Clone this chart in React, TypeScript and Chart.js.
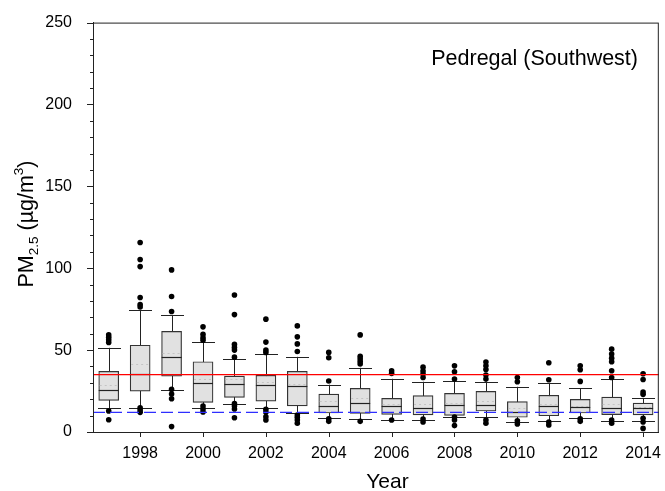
import React, { useEffect, useRef } from 'react';
import { Chart, registerables } from 'chart.js';

Chart.register(...registerables);

const years = [1997, 1998, 1999, 2000, 2001, 2002, 2003, 2004, 2005, 2006, 2007, 2008, 2009, 2010, 2011, 2012, 2013, 2014];
const upperCap = [51.4, 74.6, 71.3, 55.1, 44.5, 47.4, 45.9, 28.9, 39.2, 32.5, 30.7, 30.9, 30.7, 27.6, 29.9, 26.6, 32.5, 20.5];
const q3 = [37.0, 53.0, 61.4, 42.9, 34.1, 34.6, 37.0, 23.2, 26.6, 20.5, 22.2, 23.6, 24.8, 18.5, 22.4, 19.9, 21.3, 17.7];
const medians = [25.6, 35.2, 45.9, 29.9, 29.3, 28.5, 28.0, 15.7, 17.9, 15.9, 14.6, 16.3, 16.7, 12.0, 15.7, 15.4, 14.4, 14.4];
const means = [28.7, 41.3, 48.0, 32.5, 32.1, 30.5, 29.5, 19.0, 21.0, 17.0, 17.0, 18.0, 19.0, 14.5, 17.0, 16.0, 17.0, 15.0];
const q1 = [19.3, 25.0, 34.1, 18.1, 21.1, 18.9, 15.9, 11.6, 11.4, 10.8, 10.4, 10.2, 12.8, 9.0, 9.9, 11.6, 10.6, 10.4];
const lowerCap = [14.4, 14.4, 25.8, 14.8, 17.3, 14.6, 11.4, 8.5, 7.9, 7.5, 7.1, 9.0, 9.0, 6.3, 6.7, 8.3, 6.9, 6.7];
const outliers = [
  [59.3, 57.9, 56.3, 54.7, 12.8, 7.5],
  [115.7, 105.3, 101.0, 82.1, 77.8, 76.4, 14.8, 13.4, 12.0],
  [99.0, 82.7, 73.6, 26.0, 23.2, 20.3, 3.3],
  [64.2, 59.6, 57.5, 56.1, 15.9, 14.0, 12.2],
  [83.7, 71.7, 53.5, 51.6, 50.0, 45.7, 17.3, 15.9, 14.0, 8.7],
  [68.9, 54.9, 50.0, 48.6, 13.8, 12.0, 9.3, 7.3],
  [64.8, 58.1, 53.8, 49.2, 10.4, 9.0, 7.3, 5.3],
  [48.6, 45.3, 31.1, 8.1, 6.5],
  [59.3, 46.3, 44.7, 43.1, 41.5, 6.5],
  [37.4, 35.8, 7.3],
  [39.6, 37.2, 35.4, 33.3, 7.9, 6.1],
  [40.4, 36.8, 32.3, 9.1, 7.3, 3.9],
  [42.7, 40.4, 38.2, 34.8, 32.3, 7.3, 5.3],
  [33.3, 30.7, 6.9, 4.9],
  [42.3, 31.9, 6.1, 4.3],
  [40.4, 38.0, 30.9, 8.1, 6.5],
  [50.6, 47.6, 45.1, 42.9, 37.4, 33.3, 7.3, 5.3],
  [35.6, 32.1, 24.4, 23.0, 8.4, 6.1, 2.2],
];
const xTickYears = [1998, 2000, 2002, 2004, 2006, 2008, 2010, 2012, 2014];
const yTickValues = [0, 50, 100, 150, 200, 250];
const standard24h = 35;
const standardAnnual = 12;
const stationTitle = 'Pedregal (Southwest)';
const xTitle = 'Year';

const FONT = '"Liberation Sans", Arial, Helvetica, sans-serif';

export default function App() {
  const ref = useRef<HTMLCanvasElement>(null);

  useEffect(() => {
    const canvas = ref.current;
    if (!canvas) return;

    const boxExtras = {
      id: 'boxExtras',
      beforeDatasetsDraw(chart: any) {
        const { ctx, scales } = chart;
        const x = scales.x, y = scales.y;
        ctx.save();
        ctx.strokeStyle = '#222';
        ctx.lineWidth = 1;
        years.forEach((yr, i) => {
          const px = Math.round(x.getPixelForValue(yr)) + 0.5;
          ctx.beginPath();
          ctx.moveTo(px, y.getPixelForValue(lowerCap[i]));
          ctx.lineTo(px, y.getPixelForValue(upperCap[i]));
          ctx.stroke();
          [lowerCap[i], upperCap[i]].forEach((v) => {
            const py = Math.round(y.getPixelForValue(v)) + 0.5;
            ctx.beginPath();
            ctx.moveTo(px - 11.5, py);
            ctx.lineTo(px + 11.5, py);
            ctx.stroke();
          });
        });
        ctx.restore();
      },
      afterDatasetsDraw(chart: any) {
        const { ctx, scales, chartArea } = chart;
        const x = scales.x, y = scales.y;
        ctx.save();
        // means (dotted, faint)
        ctx.strokeStyle = '#c4c4c4';
        ctx.lineWidth = 1;
        ctx.setLineDash([2, 3]);
        years.forEach((yr, i) => {
          const px = x.getPixelForValue(yr);
          const py = Math.round(y.getPixelForValue(means[i])) + 0.5;
          ctx.beginPath();
          ctx.moveTo(px - 9, py);
          ctx.lineTo(px + 9, py);
          ctx.stroke();
        });
        ctx.setLineDash([]);
        // medians
        ctx.strokeStyle = '#222';
        ctx.lineWidth = 1.2;
        years.forEach((yr, i) => {
          const px = x.getPixelForValue(yr);
          const py = Math.round(y.getPixelForValue(medians[i])) + 0.5;
          ctx.beginPath();
          ctx.moveTo(px - 10, py);
          ctx.lineTo(px + 10, py);
          ctx.stroke();
        });
        // reference lines
        ctx.strokeStyle = '#ff0000';
        ctx.lineWidth = 1.3;
        let py = y.getPixelForValue(standard24h);
        ctx.beginPath();
        ctx.moveTo(chartArea.left, py);
        ctx.lineTo(chartArea.right, py);
        ctx.stroke();
        ctx.strokeStyle = '#2e2eff';
        ctx.setLineDash([12, 5]);
        py = y.getPixelForValue(standardAnnual);
        ctx.beginPath();
        ctx.moveTo(chartArea.left, py);
        ctx.lineTo(chartArea.right, py);
        ctx.stroke();
        ctx.setLineDash([]);
        ctx.restore();
      },
      afterDraw(chart: any) {
        const { ctx, scales, chartArea } = chart;
        const x = scales.x, y = scales.y;
        ctx.save();
        // frame
        ctx.strokeStyle = '#222';
        ctx.lineWidth = 1;
        ctx.strokeRect(chartArea.left + 0.5, chartArea.top + 0.5, chartArea.right - chartArea.left - 1, chartArea.bottom - chartArea.top);
        // y ticks
        for (let v = y.min; v <= y.max; v += 10) {
          const p = Math.round(y.getPixelForValue(v)) + 0.5;
          const len = yTickValues.includes(v) ? 6 : 3;
          ctx.beginPath();
          ctx.moveTo(chartArea.left - len, p);
          ctx.lineTo(chartArea.left, p);
          ctx.stroke();
        }
        // x ticks
        xTickYears.forEach((yr) => {
          const p = Math.round(x.getPixelForValue(yr)) + 0.5;
          ctx.beginPath();
          ctx.moveTo(p, chartArea.bottom);
          ctx.lineTo(p, chartArea.bottom + 5);
          ctx.stroke();
        });
        // station title
        ctx.fillStyle = '#000';
        ctx.font = `21.5px ${FONT}`;
        ctx.textAlign = 'right';
        ctx.textBaseline = 'alphabetic';
        ctx.fillText(stationTitle, 638, 65);
        // x title
        ctx.font = `21px ${FONT}`;
        ctx.textAlign = 'center';
        ctx.fillText(xTitle, 387.5, 488);
        // y title with sub/superscript
        ctx.translate(33, 224);
        ctx.rotate(-Math.PI / 2);
        const parts = [
          { t: 'PM', size: 21.5, dy: 0 },
          { t: '2.5', size: 13.5, dy: 5 },
          { t: ' (\u00b5g/m', size: 21.5, dy: 0 },
          { t: '3', size: 13.5, dy: -10 },
          { t: ')', size: 21.5, dy: 0 },
        ];
        let total = 0;
        parts.forEach((p) => {
          ctx.font = `${p.size}px ${FONT}`;
          total += ctx.measureText(p.t).width;
        });
        let cx = -total / 2;
        ctx.textAlign = 'left';
        parts.forEach((p) => {
          ctx.font = `${p.size}px ${FONT}`;
          ctx.fillText(p.t, cx, p.dy);
          cx += ctx.measureText(p.t).width;
        });
        ctx.restore();
      },
    };

    const chart = new Chart(canvas, {
      type: 'bar',
      data: {
        datasets: [
          {
            type: 'bar',
            data: years.map((yr, i) => ({ x: yr, y: [q1[i], q3[i]] })) as any,
            backgroundColor: '#e1e1e1',
            borderColor: '#333',
            borderWidth: 1.2,
            borderSkipped: false,
            barThickness: 20,
            order: 2,
          } as any,
          {
            type: 'scatter',
            data: years.flatMap((yr, i) => outliers[i].map((v) => ({ x: yr, y: v }))) as any,
            backgroundColor: '#000',
            borderWidth: 0,
            pointRadius: 2.8,
            order: 1,
          } as any,
        ],
      },
      options: {
        animation: false,
        responsive: false,
        devicePixelRatio: 1,
        layout: { padding: { top: 22, right: 2, left: 0, bottom: 0 } },
        plugins: { legend: { display: false }, tooltip: { enabled: false } },
        scales: {
          x: {
            type: 'linear',
            min: 1996.5,
            max: 2014.5,
            offset: false,
            grid: { display: false },
            border: { display: true, color: '#222', width: 1 },
            afterBuildTicks: (scale: any) => {
              scale.ticks = xTickYears.map((v) => ({ value: v }));
            },
            afterFit: (scale: any) => {
              scale.height = 59;
            },
            ticks: {
              font: { family: FONT, size: 16 },
              color: '#000',
              padding: 4,
              maxRotation: 0,
              autoSkip: false,
              callback: (v: any) => String(v),
            },
          },
          y: {
            type: 'linear',
            min: 0,
            max: 250,
            grid: { display: false },
            border: { display: true, color: '#222', width: 1 },
            afterBuildTicks: (scale: any) => {
              scale.ticks = yTickValues.map((v) => ({ value: v }));
            },
            afterFit: (scale: any) => {
              scale.width = 93;
            },
            ticks: {
              font: { family: FONT, size: 16 },
              color: '#000',
              padding: 13,
              callback: (v: any) => String(v),
            },
          },
        },
      } as any,
      plugins: [boxExtras],
    });

    return () => chart.destroy();
  }, []);

  return (
    <div style={{ position: 'fixed', left: 0, top: 0, width: 665, height: 491, background: '#fff' }}>
      <canvas ref={ref} width={665} height={491} style={{ display: 'block' }} />
    </div>
  );
}
